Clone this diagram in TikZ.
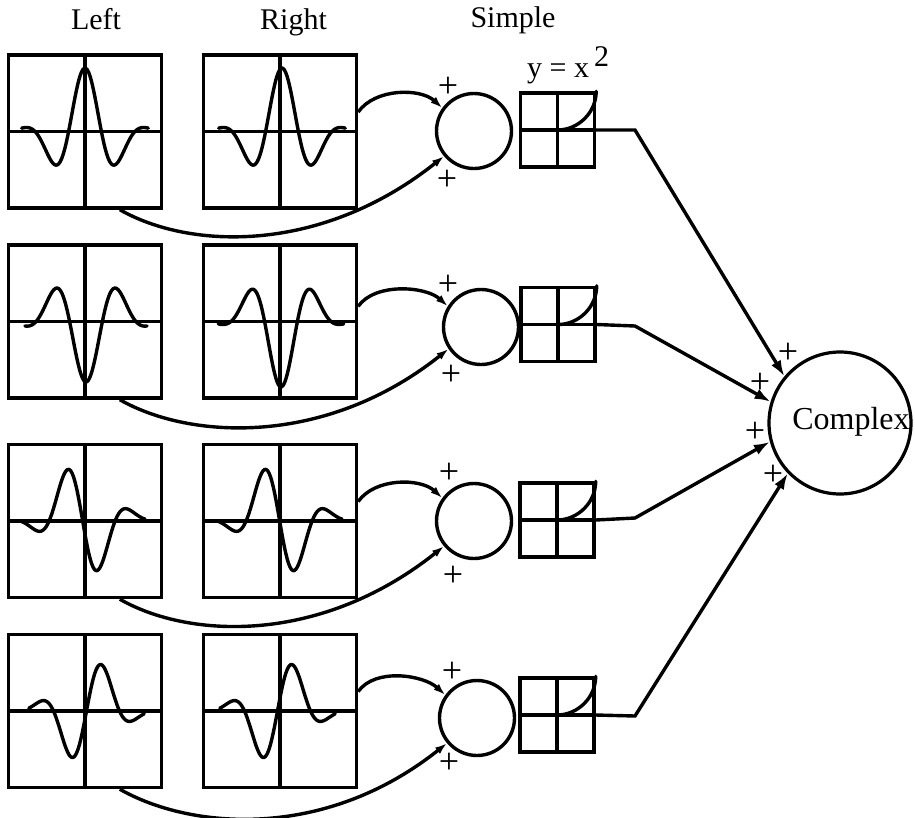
\documentclass[tikz,border=0pt]{standalone}
\usepackage{fontspec}
\setmainfont{Liberation Serif}
\usetikzlibrary{arrows.meta}
\tikzset{
 rf/.style={draw, line width=3.4pt, minimum size=153pt, inner sep=0pt},
 sq/.style={draw, line width=3.4pt, minimum size=74pt, inner sep=0pt},
 sumc/.style={draw, circle, line width=3.4pt, minimum size=75pt, inner sep=0pt},
 cplx/.style={draw, circle, line width=3.2pt, minimum size=142pt, inner sep=0pt},
 ax/.style={line width=3.4pt},
 wave/.style={line width=3.4pt, line cap=round, line join=round},
 conn/.style={line width=3.4pt, -{Latex[length=16pt,width=11pt]}},
 inarr/.style={line width=3.4pt, -{Latex[length=12pt,width=8pt]}},
 lbl/.style={font=\fontsize{30}{36}\selectfont, inner sep=0pt},
 pl/.style={font=\fontsize{36}{40}\selectfont, inner sep=0pt},
}
\newcommand\gab[9]{\draw[wave] plot[domain=#8:#9, samples=90, smooth] ({#1+#5+#6*(\x)},{#2-#3*exp(-#7*(\x)*(\x))*cos(180*(\x)+(#4))});}
\newcommand\rfbox[3]{%
 \node[rf] (#1) at (#2,#3) {};
 \draw[ax] (#1.north) -- (#1.south);
 \draw[ax] (#1.west) -- (#1.east);}
\newcommand\sqbox[3]{%
 \node[sq] (#1) at (#2,#3) {};
 \draw[ax] (#1.north) -- (#1.south);
 \draw[ax] (#1.west) -- (#1.east);
 \draw[wave] (#1.center) .. controls +(21,0) and +(0,21) .. (#1.north east);}
\begin{document}
\begin{tikzpicture}[x=1pt,y=-1pt]
\useasboundingbox (0,0) rectangle (915,817);
% labels
\node[lbl, anchor=base] (tl) at (96,29) {Left};
\node[lbl, anchor=base] (tr) at (293.5,29) {Right};
\node[lbl, anchor=base] (ts) at (513,27) {Simple};
\node[lbl, anchor=base west] (tq) at (527,77) {y = x\,\raisebox{11pt}{2}};
% receptive field boxes
\rfbox{L1}{85}{131.5}\rfbox{R1}{280}{131.5}
\rfbox{L2}{85}{321.5}\rfbox{R2}{280}{321.5}
\rfbox{L3}{85}{521}\rfbox{R3}{280}{521}
\rfbox{L4}{85}{711}\rfbox{R4}{280}{711}
% waveforms
\gab{85}{132}{64}{0}{0}{33}{0.755}{-1.92}{1.92}
\gab{282}{132}{64}{0}{0}{33}{0.755}{-1.92}{1.92}
\gab{86}{321}{61}{180}{0}{33}{0.7}{-1.85}{1.85}
\gab{281}{321}{66}{180}{0}{33}{0.85}{-1.9}{1.9}
\gab{85}{520}{61}{90}{-2.5}{33}{0.87}{-1.9}{1.9}
\gab{280}{520}{61}{90}{-0.5}{33}{0.87}{-1.9}{1.9}
\gab{85}{711}{56}{-90}{1.5}{33}{0.87}{-1.75}{1.75}
\gab{280}{711}{56}{-90}{-2.5}{33}{0.87}{-1.75}{1.75}
% sum circles
\node[sumc] (S1) at (474,131) {};
\node[sumc] (S2) at (481,327) {};
\node[sumc] (S3) at (474,521) {};
\node[sumc] (S4) at (477,718) {};
% squaring boxes
\sqbox{Q1}{557.5}{130}
\sqbox{Q2}{558}{324.5}
\sqbox{Q3}{557}{520}
\sqbox{Q4}{557}{715}
% complex cell
\node[cplx] (C) at (840,423) {};
\node[lbl, anchor=base, font=\fontsize{32}{36}\selectfont] (ct) at (851,429) {Complex};
% inputs to sums
\draw[inarr] (R1.14) .. controls +(17,-24) and +(-22,-20) .. (S1.144);
\draw[inarr] (L1.-66) .. controls +(70,40) and +(-123,98) .. (S1.220);
\draw[inarr] (R2.11) .. controls +(17,-24) and +(-22,-20) .. (S2.148);
\draw[inarr] (L2.-66) .. controls +(70,40) and +(-123,98) .. (S2.214);
\draw[inarr] (R3.14) .. controls +(17,-24) and +(-22,-20) .. (S3.144);
\draw[inarr] (L3.-66) .. controls +(70,40) and +(-123,98) .. (S3.220);
\draw[inarr] (R4.14) .. controls +(17,-24) and +(-22,-20) .. (S4.144);
\draw[inarr] (L4.-66) .. controls +(70,40) and +(-123,98) .. (S4.220);
% plus signs at sums
\node[pl] (p1a) at (448,87) {+};
\node[pl] (p1b) at (447,180) {+};
\node[pl] (p2a) at (448,285) {+};
\node[pl] (p2b) at (451,375) {+};
\node[pl] (p3a) at (449,473) {+};
\node[pl] (p3b) at (453,576) {+};
\node[pl] (p4a) at (452,672) {+};
\node[pl] (p4b) at (449,763) {+};
% outputs to complex
\coordinate (K1) at (635,130);
\coordinate (K2) at (635,326);
\coordinate (K3) at (635,518);
\coordinate (K4) at (635,716);
\draw[conn] (Q1.east) -- (K1) -- (C.140.6);
\draw[conn] (Q2.east) -- (K2) -- (C.163);
\draw[conn] (Q3.east) -- (K3) -- (C.195.6);
\draw[conn] (Q4.east) -- (K4) -- (C.224);
% plus signs at complex
\node[pl] (c1) at (788,353) {+};
\node[pl] (c2) at (760,383) {+};
\node[pl] (c3) at (755,432) {+};
\node[pl] (c4) at (773,475) {+};
\end{tikzpicture}
\end{document}
